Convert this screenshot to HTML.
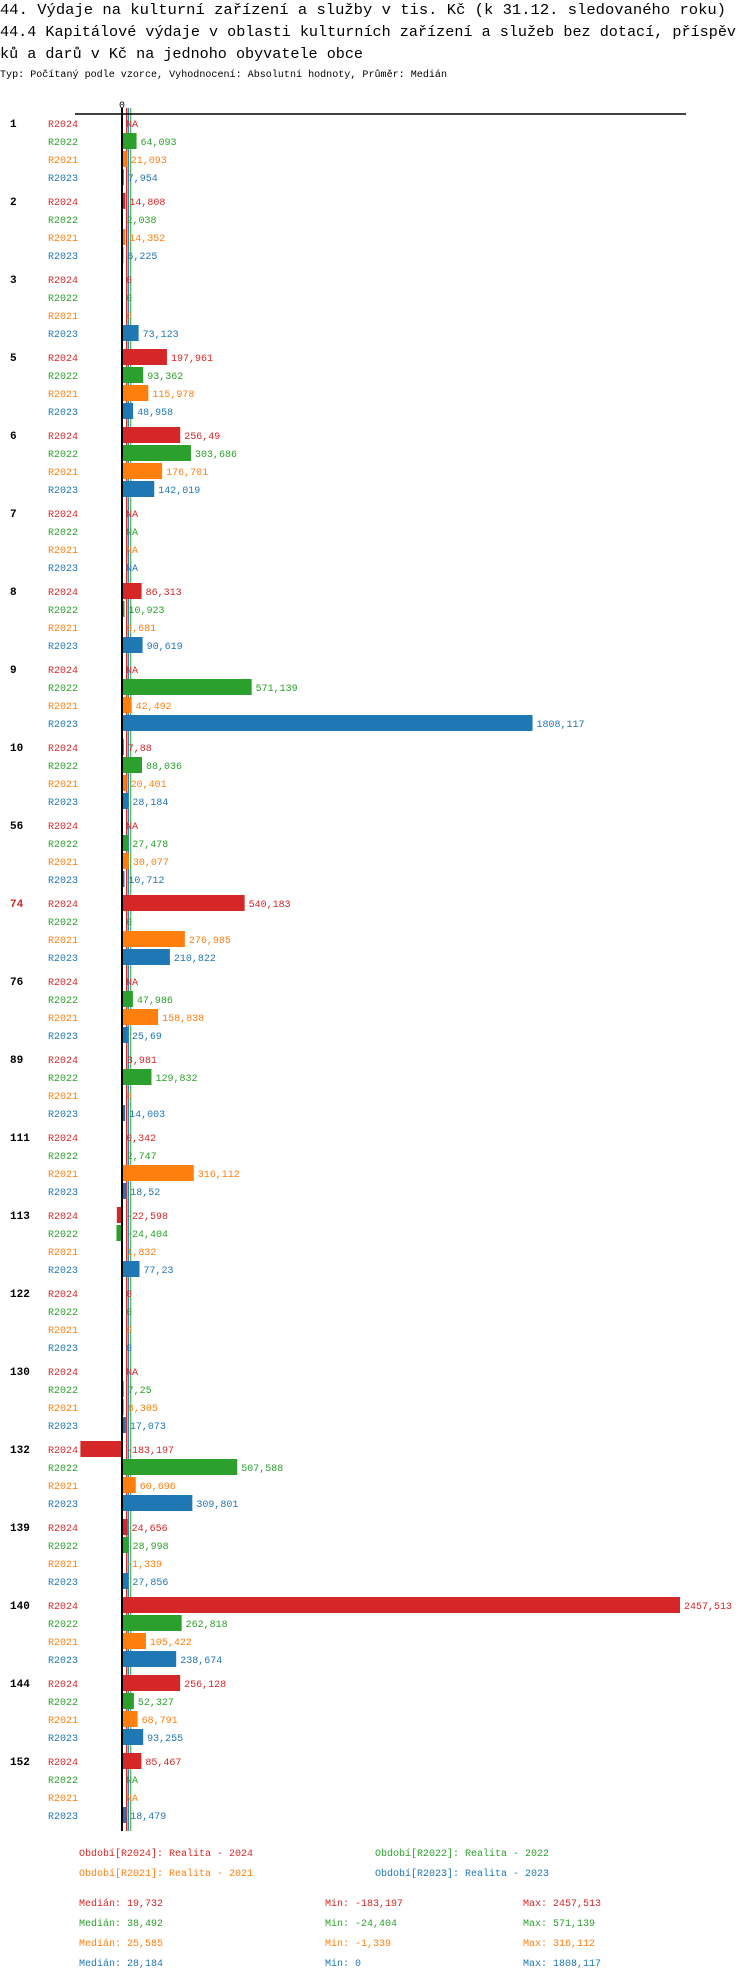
<!DOCTYPE html>
<html><head><meta charset="utf-8"><style>
html,body{margin:0;padding:0;background:#fff;}
svg{display:block;font-family:"Liberation Mono",monospace;}
</style></head><body>
<svg id="chart" width="750" height="1980" xmlns="http://www.w3.org/2000/svg">
<text x="0" y="14" font-size="15" textLength="726" lengthAdjust="spacingAndGlyphs">44. Výdaje na kulturní zařízení a služby v tis. Kč (k 31.12. sledovaného roku)</text>
<text x="0" y="36" font-size="15" textLength="736" lengthAdjust="spacingAndGlyphs">44.4 Kapitálové výdaje v oblasti kulturních zařízení a služeb bez dotací, příspěv</text>
<text x="0" y="58" font-size="15" textLength="363" lengthAdjust="spacingAndGlyphs">ků a darů v Kč na jednoho obyvatele obce</text>
<text x="0" y="77" font-size="10" textLength="447" lengthAdjust="spacingAndGlyphs">Typ: Počítaný podle vzorce, Vyhodnocení: Absolutní hodnoty, Průměr: Medián</text>
<g id="plot"></g>
</svg>
<script>
const groups = ["1","2","3","5","6","7","8","9","10","56","74","76","89","111","113","122","130","132","139","140","144","152"];
const seriesNames = ["R2024","R2022","R2021","R2023"];
const r2024 = [null,14.808,0,197.961,256.49,null,86.313,null,7.88,null,540.183,null,3.981,0.342,-22.598,0,null,-183.197,24.656,2457.513,256.128,85.467];
const r2022 = [64.093,2.038,0,93.362,303.686,null,10.923,571.139,88.036,27.478,0,47.986,129.832,2.747,-24.404,0,7.25,507.588,28.998,262.818,52.327,null];
const r2021 = [21.093,14.352,0,115.978,176.701,null,0.681,42.492,20.401,30.077,276.985,158.838,0,316.112,1.832,0,8.305,60.696,-1.339,105.422,68.791,null];
const r2023 = [7.954,6.225,73.123,48.958,142.019,null,90.619,1808.117,28.184,10.712,210.822,25.69,14.003,18.52,77.23,0,17.073,309.801,27.856,238.674,93.255,18.479];
const medians = [19.732,38.492,25.585,28.184];
const mins = ["-183,197","-24,404","-1,339","0"];
const maxs = ["2457,513","571,139","316,112","1808,117"];
const medianLabels = ["19,732","38,492","25,585","28,184"];
const legendLabels = ["Období[R2024]: Realita - 2024","Období[R2022]: Realita - 2022","Období[R2021]: Realita - 2021","Období[R2023]: Realita - 2023"];
const colors = ["#d62728","#2ca02c","#ff7f0e","#1f77b4"];
const allSeries = [r2024, r2022, r2021, r2023];

const NS = "http://www.w3.org/2000/svg";
const plot = document.getElementById("plot");
const x0 = 122, scale = (680 - 122) / 2457.513;
const xs = v => x0 + v * scale;
const rowY = (g, s) => 123 + g * 78 + s * 18;
function mk(tag, attrs, parent) {
  const e = document.createElementNS(NS, tag);
  for (const k in attrs) e.setAttribute(k, attrs[k]);
  (parent || plot).appendChild(e);
  return e;
}
const fmt = v => String(Math.round(v*1000)/1000).replace(".", ",");

medians.forEach((m, i) => {
  const l = mk("line", {x1:xs(m), x2:xs(m), y1:108, y2:1831, stroke:colors[i], "stroke-width":1});
  
  
});

let t = mk("line", {x1:75, x2:686, y1:114, y2:114, stroke:"#000", "stroke-width":1.5});


t = mk("text", {x:x0, y:108, "font-size":10, "text-anchor":"middle"}); t.textContent = "0";



groups.forEach((g, gi) => {
  const gl = mk("text", {x:10, y:rowY(gi,0)+4, "font-size":11, "font-weight":"bold", fill: g==="74" ? "#d62728" : "#000"});
  gl.textContent = g;
  
  
  allSeries.forEach((arr, si) => {
    const y = rowY(gi, si), v = arr[gi];
    const sl = mk("text", {x:48, y:y+4, "font-size":10, fill:colors[si]});
    sl.textContent = seriesNames[si];
    
    
    let end = x0;
    if (v !== null) {
      const xa = xs(Math.min(0, v)), xb = xs(Math.max(0, v));
      const b = mk("rect", {x:xa, y:y-8, width:Math.max(0, xb-xa), height:16, fill:colors[si]});
      
      
      end = Math.max(x0, xb);
    }
    const vl = mk("text", {x:end+4, y:y+4, "font-size":10, fill:colors[si]});
    vl.textContent = v === null ? "NA" : fmt(v);
    
    
  });
});

t = mk("line", {x1:x0, x2:x0, y1:108, y2:1831, stroke:"#000", "stroke-width":2});



legendLabels.forEach((s, i) => {
  const e = mk("text", {x: i%2===0 ? 79 : 375, y: 1856 + Math.floor(i/2)*20, "font-size":10, fill:colors[i]});
  e.textContent = s;
  
  
});
colors.forEach((c, i) => {
  const y = 1906 + i*20;
  let e = mk("text", {x:79, y:y, "font-size":10, fill:c}); e.textContent = "Medián: " + medianLabels[i];
  
  
  e = mk("text", {x:325, y:y, "font-size":10, fill:c}); e.textContent = "Min: " + mins[i];
  
  
  e = mk("text", {x:523, y:y, "font-size":10, fill:c}); e.textContent = "Max: " + maxs[i];
  
  
});
</script>
</body></html>
